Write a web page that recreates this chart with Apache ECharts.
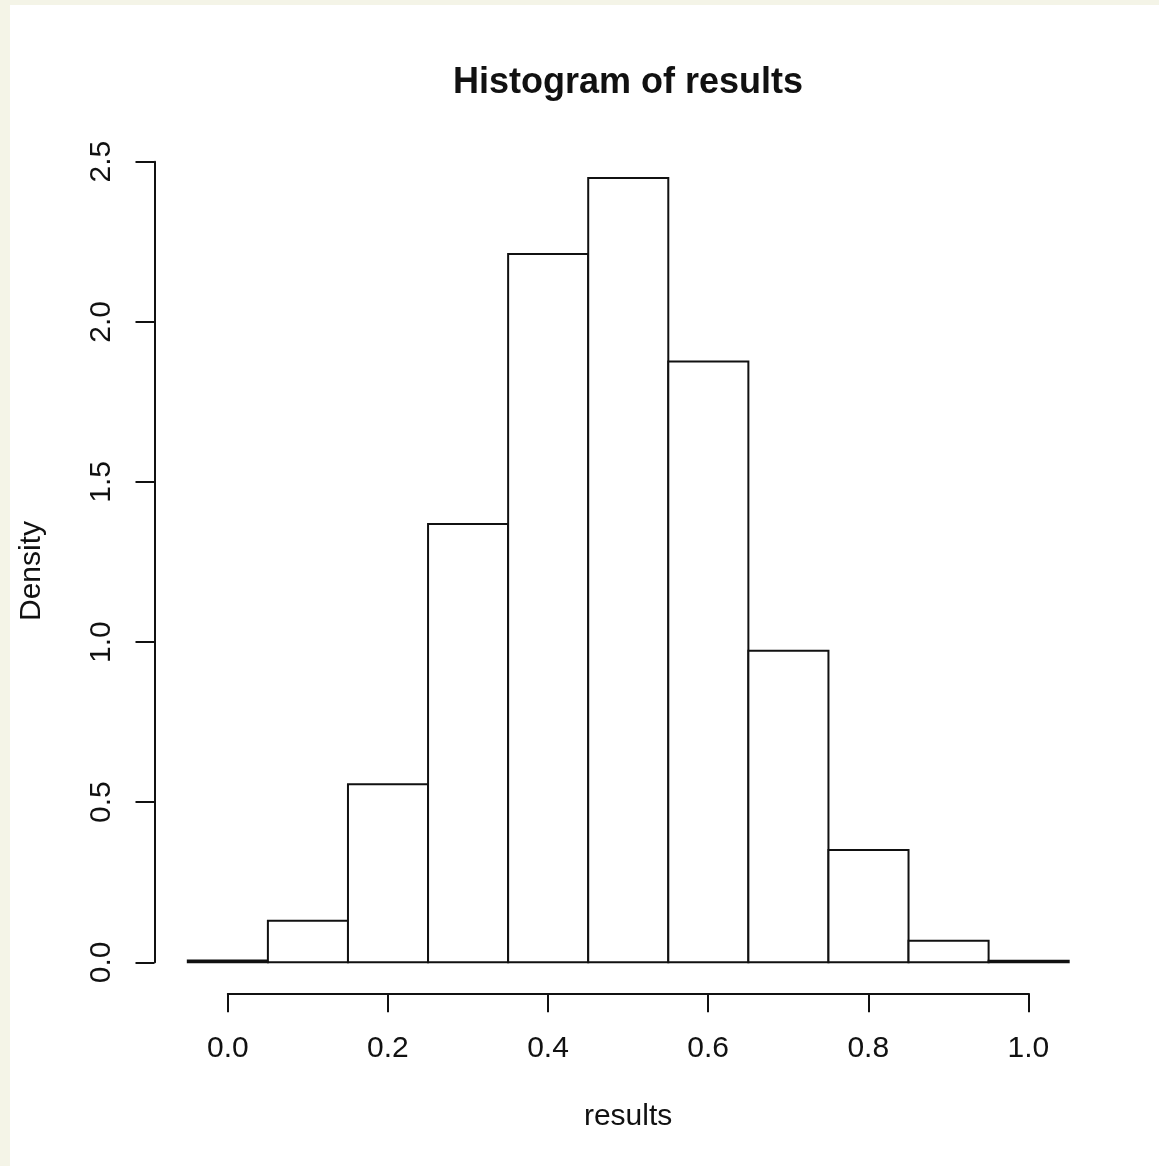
<!DOCTYPE html>
<html>
<head>
<meta charset="utf-8">
<script src="https://cdn.jsdelivr.net/npm/echarts@6/dist/echarts.min.js"></script>
<style>
  html, body { margin: 0; padding: 0; background: #f4f4e7; }
  #paper { position: absolute; left: 10px; top: 5px; right: 0; bottom: 0; background: #ffffff; }
  #chart { position: absolute; left: 0; top: 0; width: 1159px; height: 1166px; }
</style>
</head>
<body>
<div id="paper"></div>
<div id="chart"></div>
<script>
// ---- data ----
const titleText = 'Histogram of results';
const xName = 'results';
const yName = 'Density';
const breaks = [-0.05, 0.05, 0.15, 0.25, 0.35, 0.45, 0.55, 0.65, 0.75, 0.85, 0.95, 1.05];
const density = [0.006, 0.130, 0.556, 1.369, 2.212, 2.449, 1.876, 0.973, 0.351, 0.067, 0.005];
const xTicks = [0, 0.2, 0.4, 0.6, 0.8, 1.0];
const yTicks = [0, 0.5, 1.0, 1.5, 2.0, 2.5];

const FONT = '"Liberation Sans", Arial, sans-serif';
const INK = '#111';

const bins = breaks.slice(0, -1).map((b, i) => [b, breaks[i + 1], density[i]]);
const xPad = 0.0416;

const chart = echarts.init(document.getElementById('chart'), null, { renderer: 'canvas' });
chart.setOption({
  backgroundColor: 'transparent',
  animation: false,
  title: {
    text: titleText,
    left: 623,
    top: 60,
    textAlign: 'center',
    textStyle: { fontFamily: FONT, fontWeight: 'bold', fontSize: 36, color: INK }
  },
  grid: [
    { left: 154.5, right: 57, top: 161.7, bottom: 203.7 },
    { left: 227.8, right: 130.6, top: 900, bottom: 172.7 }
  ],
  xAxis: [
    { gridIndex: 0, type: 'value', min: breaks[0] - xPad, max: breaks[breaks.length - 1] + xPad, show: false },
    {
      gridIndex: 1, type: 'value', min: xTicks[0], max: xTicks[xTicks.length - 1], interval: 0.2,
      position: 'bottom',
      name: xName, nameLocation: 'middle', nameGap: 108,
      nameTextStyle: { fontFamily: FONT, fontSize: 30, color: INK },
      axisLine: { show: true, onZero: false, lineStyle: { color: INK, width: 2 } },
      axisTick: { show: true, length: 19, lineStyle: { color: INK, width: 2 } },
      axisLabel: { show: true, margin: 40, fontFamily: FONT, fontSize: 30, color: INK,
        formatter: v => v.toFixed(1) },
      splitLine: { show: false }
    }
  ],
  yAxis: [
    {
      gridIndex: 0, type: 'value', min: yTicks[0], max: yTicks[yTicks.length - 1], interval: 0.5,
      position: 'left',
      name: yName, nameLocation: 'middle', nameGap: 108,
      nameTextStyle: { fontFamily: FONT, fontSize: 30, color: INK, padding: [0, 18, 0, 0] },
      axisLine: { show: true, onZero: false, lineStyle: { color: INK, width: 2 } },
      axisTick: { show: true, length: 19, lineStyle: { color: INK, width: 2 } },
      axisLabel: { show: true, rotate: 90, margin: 38, fontFamily: FONT, fontSize: 30, color: INK,
        formatter: v => v.toFixed(1) },
      splitLine: { show: false }
    },
    { gridIndex: 1, type: 'value', min: 0, max: 1, show: false }
  ],
  series: [{
    type: 'custom',
    name: 'results',
    xAxisIndex: 0,
    yAxisIndex: 0,
    clip: false,
    data: bins,
    encode: { x: [0, 1], y: 2 },
    renderItem: function (params, api) {
      const top = api.coord([api.value(0), api.value(2)]);
      const bot = api.coord([api.value(1), 0]);
      return {
        type: 'rect',
        shape: { x: top[0], y: top[1], width: bot[0] - top[0], height: bot[1] - top[1] },
        style: { fill: '#ffffff', stroke: INK, lineWidth: 2 }
      };
    }
  }]
});
</script>
</body>
</html>
